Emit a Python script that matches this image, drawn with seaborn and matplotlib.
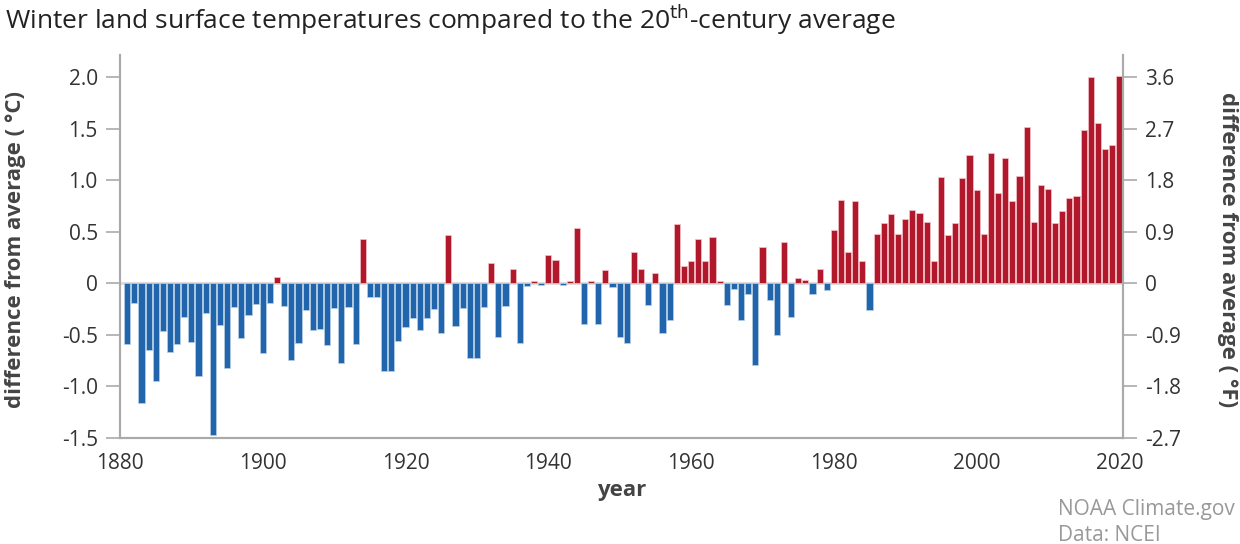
import numpy as np
import pandas as pd
import matplotlib.pyplot as plt
import matplotlib.ticker as mticker
import seaborn as sns

sns.set_theme(style="white")
plt.rcParams["font.family"] = ["Open Sans", "DejaVu Sans"]

# winter land temperature anomalies, degrees C, 1881-2020
years = list(range(1881, 2021))
anomaly = [
    -0.59, -0.19, -1.16, -0.65, -0.95, -0.46, -0.67, -0.59, -0.33, -0.57,   # 1881-1890
    -0.90, -0.29, -1.47, -0.40, -0.82, -0.23, -0.53, -0.31, -0.20, -0.68,   # 1891-1900
    -0.19, 0.06, -0.22, -0.74, -0.58, -0.26, -0.45, -0.44, -0.60, -0.24,    # 1901-1910
    -0.77, -0.23, -0.59, 0.43, -0.13, -0.13, -0.85, -0.85, -0.56, -0.42,    # 1911-1920
    -0.34, -0.45, -0.34, -0.25, -0.48, 0.47, -0.41, -0.24, -0.72, -0.72,    # 1921-1930
    -0.23, 0.20, -0.52, -0.22, 0.135, -0.58, -0.03, 0.02, -0.02, 0.28,      # 1931-1940
    0.23, -0.02, 0.02, 0.54, -0.39, 0.02, -0.39, 0.125, -0.04, -0.52,       # 1941-1950
    -0.58, 0.305, 0.135, -0.21, 0.105, -0.485, -0.36, 0.575, 0.165, 0.215,  # 1951-1960
    0.435, 0.215, 0.45, 0.02, -0.21, -0.05, -0.36, -0.10, -0.79, 0.355,     # 1961-1970
    -0.16, -0.50, 0.40, -0.33, 0.055, 0.035, -0.10, 0.135, -0.06, 0.515,    # 1971-1980
    0.81, 0.30, 0.80, 0.215, -0.26, 0.48, 0.585, 0.67, 0.48, 0.62,          # 1981-1990
    0.71, 0.68, 0.595, 0.215, 1.03, 0.47, 0.585, 1.02, 1.25, 0.91,          # 1991-2000
    0.48, 1.27, 0.88, 1.22, 0.80, 1.04, 1.515, 0.595, 0.95, 0.92,           # 2001-2010
    0.585, 0.70, 0.83, 0.85, 1.485, 2.005, 1.555, 1.30, 1.34, 2.015,        # 2011-2020
]

c_ticks = [-1.5, -1.0, -0.5, 0, 0.5, 1.0, 1.5, 2.0]
c_labels = ["-1.5", "-1.0", "-0.5", "0", "0.5", "1.0", "1.5", "2.0"]
f_ticks = [-2.7, -1.8, -0.9, 0, 0.9, 1.8, 2.7, 3.6]
f_labels = ["-2.7", "-1.8", "-0.9", "0", "0.9", "1.8", "2.7", "3.6"]
x_ticks = [1880, 1900, 1920, 1940, 1960, 1980, 2000, 2020]

df = pd.DataFrame({"year": years, "anomaly": anomaly})
df["sign"] = np.where(df["anomaly"] >= 0, "warm", "cool")

RED, BLUE = "#b2182b", "#2166ac"
AXIS = "#aaaaaa"
LABEL = "#444444"

fig = plt.figure(figsize=(12.4, 5.44), dpi=100)
ax = fig.add_axes([0.0968, 0.195, 0.8088, 0.704])

ax.axhline(0, color="#dddddd", lw=2.2, zorder=0.5)
sns.barplot(data=df, x="year", y="anomaly", hue="sign", native_scale=True,
            palette={"warm": RED, "cool": BLUE}, dodge=False, width=0.86,
            saturation=1, legend=False, ax=ax, zorder=2)
for p in ax.patches:
    fc = p.get_facecolor()
    p.set_edgecolor("#f2c4ca" if fc[0] > 0.5 else "#b9cfe6")
    p.set_linewidth(0.5)

ax.set_xlim(1880, 2020.5)
ax.set_ylim(-1.5, 2.217)
ax.set_xticks(x_ticks)
ax.set_xticklabels([str(t) for t in x_ticks])
ax.set_yticks(c_ticks)
ax.yaxis.set_major_formatter(mticker.FixedFormatter(c_labels))

ax2 = ax.twinx()
ax2.set_ylim(-1.5 * 1.8, 2.217 * 1.8)
ax2.set_yticks(f_ticks)
ax2.yaxis.set_major_formatter(mticker.FixedFormatter(f_labels))

for a in (ax, ax2):
    a.spines["top"].set_visible(False)
    for s in ("left", "right", "bottom"):
        a.spines[s].set_color(AXIS)
        a.spines[s].set_linewidth(1.5)
    a.tick_params(axis="both", colors=AXIS, labelcolor="#333333",
                  labelsize=15, length=10, width=1.2, direction="out", pad=6)
ax.tick_params(axis="x", length=7, pad=4)

ax.set_xlabel("year", fontsize=16, fontweight="bold", color=LABEL, labelpad=4)
ax.set_ylabel("difference from average ( °C)", fontsize=16, fontweight="bold",
              color=LABEL, va="center")
ax.yaxis.set_label_coords(-0.1047, 0.493)
ax2.set_ylabel("difference from average ( °F)", fontsize=16, fontweight="bold",
               color=LABEL, rotation=270, va="center")
ax2.yaxis.set_label_coords(1.1047, 0.493)

fig.text(0.004, 0.9458, "Winter land surface temperatures compared to the 20$^{\\rm th}$-century average",
         fontsize=19, color="#222222", ha="left", va="baseline")
fig.text(0.853, 0.0625, "NOAA Climate.gov", fontsize=15, color="#999999", ha="left", va="center")
fig.text(0.853, 0.0165, "Data: NCEI", fontsize=15, color="#999999", ha="left", va="center")

fig.savefig("out.png", dpi=100)
